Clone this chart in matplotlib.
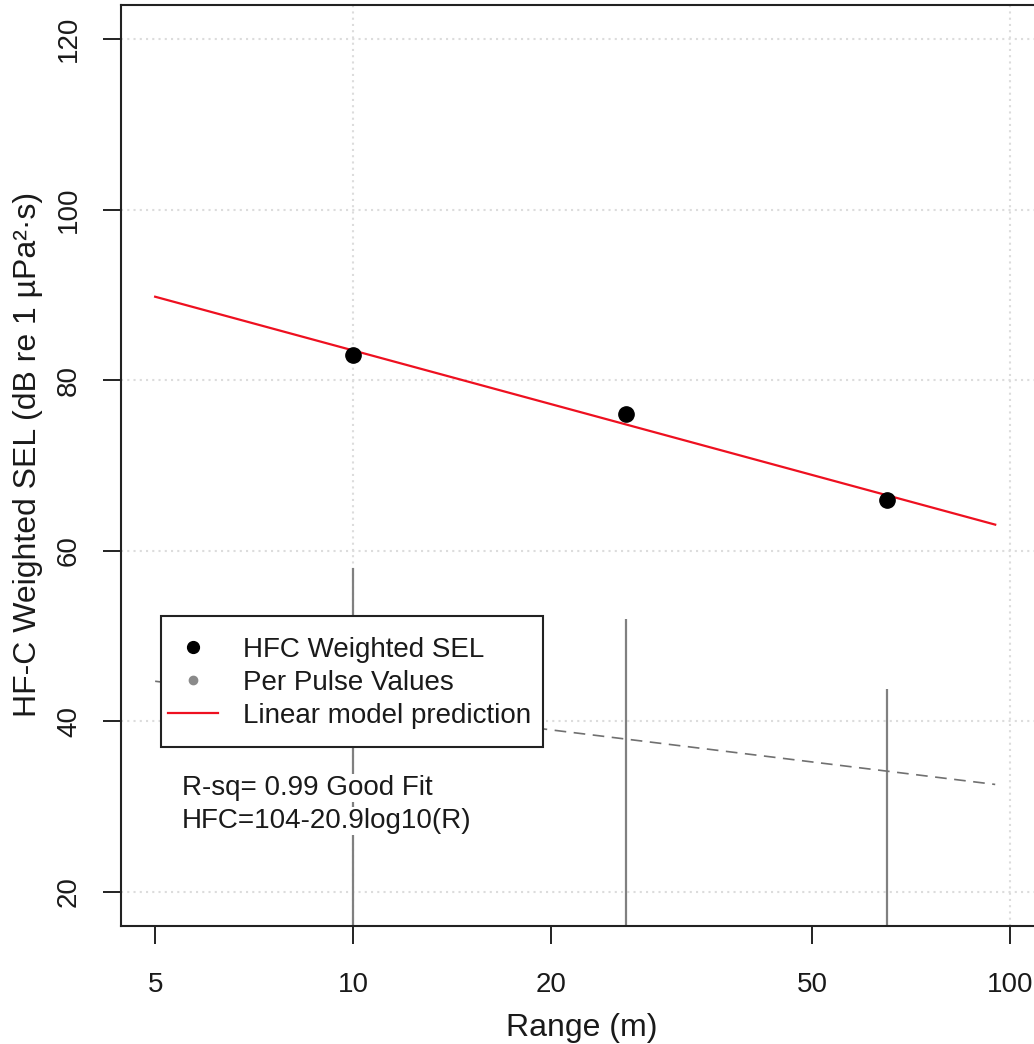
import numpy as np
import matplotlib
matplotlib.use("Agg")
import matplotlib.pyplot as plt
from matplotlib.lines import Line2D
from matplotlib.patches import Rectangle

plt.rcParams['font.family'] = ['Liberation Sans', 'DejaVu Sans']

# Measured weighted SEL per range
sel_range = [10, 26, 65]
sel_value = [83, 76, 66]

# Spread of the per-pulse values at each range (lowest, highest)
pulse_range = [10, 26, 65]
pulse_low = [8, 8, 8]
pulse_high = [58, 52, 43.8]

# Linear model: HFC = a - b*log10(R)
model_a = 104.4
model_b = 20.9
model_span = [5, 95]

# Per-pulse trend line end values
pulse_trend_range = [5, 95]
pulse_trend_value = [44.7, 32.6]

x_ticks = [5, 10, 20, 50, 100]
y_ticks = [20, 40, 60, 80, 100, 120]

W, H = 1034, 1044
fig = plt.figure(figsize=(W / 100, H / 100), dpi=100)
left, right, top, bottom = 121, 1044, 5, 926
ax = fig.add_axes([left / W, (H - bottom) / H, (right - left) / W, (bottom - top) / H])

ax.set_xscale('log')
ax.set_xlim(10 ** 0.647, 10 ** 2.052)
ax.set_ylim(16, 124)

# grid: decades on x, every tick on y
grid_kw = dict(color='#dcdcdc', lw=1.5, ls=(0, (1, 2)), zorder=1)
for gx in [10, 100]:
    ax.axvline(gx, **grid_kw)
for gy in y_ticks:
    ax.axhline(gy, **grid_kw)

# per-pulse values
ax.vlines(pulse_range, pulse_low, pulse_high, color='#808080', lw=1.6, zorder=2)

# per-pulse trend
ax.plot(pulse_trend_range, pulse_trend_value, color='#707070', lw=1.2,
        ls=(0, (7, 4.5)), zorder=2)

# model prediction
xr = np.logspace(np.log10(model_span[0]), np.log10(model_span[1]), 50)
ax.plot(xr, model_a - model_b * np.log10(xr), color='#ee1020', lw=1.6, zorder=3)

# weighted SEL
ax.plot(sel_range, sel_value, 'o', color='black', ms=11, zorder=4)

ax.set_xticks(x_ticks)
ax.set_xticklabels([str(v) for v in x_ticks])
ax.xaxis.set_minor_locator(matplotlib.ticker.NullLocator())
ax.set_yticks(y_ticks)
ax.tick_params(axis='both', direction='out', length=13, width=1.4, labelsize=20,
               color='#222222', labelcolor='#1a1a1a')
ax.tick_params(axis='x', pad=20)
ax.tick_params(axis='y', pad=15, labelrotation=90)
for lab in ax.get_yticklabels():
    lab.set_va('center')

for side in ['left', 'bottom', 'top', 'right']:
    ax.spines[side].set_linewidth(1.5)
    ax.spines[side].set_color('#222222')

ax.set_xlabel('Range (m)', fontsize=23, color='#1a1a1a')
ax.xaxis.label.set_va('baseline')
ax.xaxis.set_label_coords(0.4995, -(1036 - bottom) / (bottom - top))
ax.set_ylabel('HF-C Weighted SEL (dB re 1 µPa²·s)', fontsize=23, color='#1a1a1a',
              rotation_mode='anchor')
ax.yaxis.label.set_va('baseline')
ax.yaxis.set_label_coords((36 - left) / (right - left), 0.512)

def ax_x(px):
    return (px - left) / (right - left)

def ax_y(py):
    return (bottom - py) / (bottom - top)

# legend box
bx0, by0, bx1, by1 = 161, 616, 543, 747
ax.add_patch(Rectangle((ax_x(bx0), ax_y(by1)), ax_x(bx1) - ax_x(bx0), ax_y(by0) - ax_y(by1),
                       transform=ax.transAxes, fc='white', ec='#222222', lw=1.5, zorder=5))
handles = [
    Line2D([], [], ls='none', marker='o', color='black', ms=8.5),
    Line2D([], [], ls='none', marker='o', color='#8a8a8a', ms=6),
    Line2D([], [], color='#ee1020', lw=1.6),
]
labels = ['HFC Weighted SEL', 'Per Pulse Values', 'Linear model prediction']
leg = ax.legend(handles, labels, loc='upper left', bbox_to_anchor=(ax_x(168), ax_y(637)),
                frameon=False, fontsize=20, borderpad=0, borderaxespad=0,
                handlelength=1.8, handletextpad=0.9, labelspacing=0.25)
leg.set_zorder(6)
for t in leg.get_texts():
    t.set_color('#1a1a1a')

# fit summary
for txt, by in [('R-sq= 0.99 Good Fit', 795), ('HFC=104-20.9log10(R)', 828)]:
    ax.text(ax_x(182), ax_y(by), txt, transform=ax.transAxes, fontsize=20,
            color='#1a1a1a', va='baseline', ha='left', zorder=6,
            bbox=dict(fc='white', ec='none', pad=1))

fig.savefig('out.png', dpi=100)
